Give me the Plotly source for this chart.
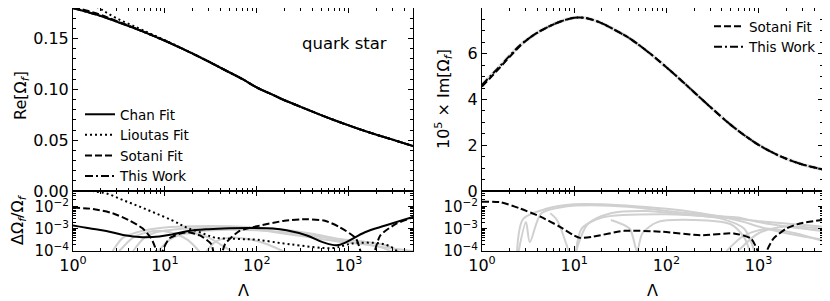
import plotly.graph_objects as go
import math

# ---------------- data ----------------
lam_re = [1, 1.5, 2, 3, 5, 7, 10, 15, 20, 30, 50, 70, 100, 150, 200, 300, 500, 700, 1000, 1500, 2000, 3000, 5000]
re_chan = [0.1797, 0.1755, 0.1722, 0.1665, 0.1590, 0.1537, 0.1478, 0.1405, 0.1352, 0.1272, 0.1168, 0.1100, 0.1018,
           0.0945, 0.0893, 0.0828, 0.0747, 0.0696, 0.0645, 0.0590, 0.0554, 0.0505, 0.0442]
re_lioutas = [0.1990, 0.1860, 0.1790, 0.1698, 0.1606, 0.1546, 0.1483, 0.1408, 0.1353, 0.1273, 0.1168, 0.1100, 0.1018,
              0.0945, 0.0893, 0.0828, 0.0747, 0.0696, 0.0645, 0.0590, 0.0554, 0.0505, 0.0442]
re_sotani = [0.1812, 0.1768, 0.1733, 0.1671, 0.1593, 0.1538, 0.1478, 0.1405, 0.1352, 0.1272, 0.1168, 0.1100, 0.1018,
             0.0945, 0.0893, 0.0828, 0.0747, 0.0696, 0.0645, 0.0590, 0.0554, 0.0505, 0.0442]
re_this_work = [0.1797, 0.1755, 0.1722, 0.1665, 0.1590, 0.1537, 0.1478, 0.1405, 0.1352, 0.1272, 0.1168, 0.1100, 0.1018,
                0.0945, 0.0893, 0.0828, 0.0747, 0.0696, 0.0645, 0.0590, 0.0554, 0.0505, 0.0442]

lam_im = [1, 1.3, 1.6, 2, 2.6, 3.3, 4.3, 5.5, 7, 10, 13, 16, 20, 26, 40, 66, 100, 150, 200, 300, 500, 700,
          1000, 1500, 2000, 3000, 5000]
im_sotani = [4.56, 5.05, 5.44, 5.87, 6.35, 6.70, 7.00, 7.22, 7.40, 7.57, 7.57, 7.48, 7.33, 7.10, 6.67, 6.02, 5.41,
             4.78, 4.32, 3.67, 2.89, 2.44, 2.02, 1.63, 1.41, 1.16, 0.94]
im_this_work = [4.64, 5.12, 5.50, 5.92, 6.38, 6.70, 7.00, 7.22, 7.40, 7.57, 7.57, 7.48, 7.33, 7.10, 6.67, 6.02, 5.41,
                4.78, 4.32, 3.67, 2.89, 2.44, 2.02, 1.63, 1.41, 1.16, 0.94]

# relative errors, left panel (quark star, real part)
lam_res_chan = [1, 1.5, 2.3, 3.5, 5.7, 8.7, 12, 18, 30, 50, 85, 150, 210, 350, 520, 740, 940, 1500, 2500, 5000]
res_chan = [1.4e-3, 1.05e-3, 8.0e-4, 5.3e-4, 4.2e-4, 4.5e-4, 5.6e-4, 8.0e-4, 9.6e-4, 1.05e-3, 1.08e-3, 1.02e-3,
            8.5e-4, 5.0e-4, 2.5e-4, 1.8e-4, 2.5e-4, 7.0e-4, 1.4e-3, 3.4e-3]
lam_res_lioutas = [1, 1.65, 2.3, 3.5, 5.3, 8, 12, 15, 18, 24, 35, 60, 100, 230, 670, 900, 1100, 2200, 3000, 3500, 4000]
res_lioutas = [1.0e-1, 5.0e-2, 3.9e-2, 1.95e-2, 1.0e-2, 4.9e-3, 2.4e-3, 1.5e-3, 1.05e-3, 7.0e-4, 4.0e-4, 3.5e-4,
               3.2e-4, 2.0e-4, 1.35e-4, 1.8e-4, 2.2e-4, 2.2e-4, 1.4e-4, 8.0e-5, 3.0e-5]
lam_res_sotani = [1, 1.65, 2.7, 4, 5.7, 7.1, 8.0, 8.6, 9.5, 11.2, 14.4, 18, 24, 32, 37, 45, 65, 100, 200, 350, 550,
                  790, 1200, 1600, 2200, 3300, 5000]
res_sotani = [9.0e-3, 7.8e-3, 5.0e-3, 2.5e-3, 1.05e-3, 3.7e-4, 1.1e-4, 1.0e-5, 1.1e-4, 3.7e-4, 5.9e-4, 7.0e-4, 5.0e-4,
              2.0e-4, 1.0e-5, 2.0e-4, 8.0e-4, 1.3e-3, 2.3e-3, 2.7e-3, 2.3e-3, 1.2e-3, 3.6e-4, 1.0e-5, 5.0e-4, 1.7e-3,
              3.3e-3]

# relative errors, right panel (imaginary part)
lam_res_sotani_im = [1, 1.6, 2.6, 4.3, 7, 9.9, 11.6, 16, 35, 87, 235, 537, 830, 1000, 1100, 1200, 1450, 2000, 2800, 5000]
res_sotani_im = [1.66e-2, 1.55e-2, 8.1e-3, 3.5e-3, 1.23e-3, 5.1e-4, 3.9e-4, 4.4e-4, 8.1e-4, 7.4e-4, 5.1e-4, 6.2e-4,
                 3.6e-4, 8.0e-5, 1.0e-5, 8.0e-5, 3.6e-4, 1.02e-3, 1.74e-3, 2.5e-3]

# individual-star residuals (grey)
gray_left_lam = [
    [2.7, 3.5, 5, 7, 10, 20, 50, 100, 200, 400, 800, 1500, 2500, 3500],
    [4.5, 6, 8, 12, 20, 50, 100, 230, 500, 800, 1500, 2200, 3000],
    [3.2, 4.5, 6.5, 9.5, 13, 18, 24],
    [8.5, 11, 15, 22, 30, 40, 55],
    [28, 35, 50, 80, 130, 200],
    [15, 25, 50, 100, 200, 400, 800, 1500, 3000, 5000],
]
gray_left_res = [
    [1e-4, 4e-4, 7e-4, 9.5e-4, 1.15e-3, 1.3e-3, 1.3e-3, 1.15e-3, 9e-4, 6e-4, 3.5e-4, 2.6e-4, 1.8e-4, 1e-4],
    [1e-4, 4e-4, 7e-4, 9e-4, 1.05e-3, 1.05e-3, 9e-4, 5.5e-4, 3.5e-4, 2.6e-4, 2e-4, 1.5e-4, 9e-5],
    [1e-4, 4e-4, 7e-4, 8e-4, 6e-4, 3e-4, 9e-5],
    [1e-4, 3e-4, 5.5e-4, 6e-4, 4e-4, 2e-4, 9e-5],
    [9e-5, 2.5e-4, 4e-4, 3.5e-4, 2e-4, 9e-5],
    [6e-4, 8e-4, 9e-4, 8.5e-4, 7e-4, 5e-4, 3e-4, 2e-4, 1.3e-4, 1e-4],
]
gray_right_lam = [
    [2.4, 2.8, 5, 10, 20, 50, 100, 200, 400, 700, 1000, 2000, 5000],
    [2.5, 3.0, 3.3, 4.4, 8, 20, 50, 100, 300, 600, 1000, 2000, 5000],
    [5.5, 6.5, 8.7],
    [10.5, 14, 25, 60, 150, 400, 700, 900],
    [25, 40, 48, 55, 80, 200, 500, 700, 800],
    [450, 700, 1250, 2500, 5000],
    [600, 1000, 2000, 5000],
    [10.5, 12, 20, 100, 400, 1000, 5000],
]
gray_right_res = [
    [1e-4, 2.8e-3, 7.9e-3, 1.26e-2, 1.26e-2, 1.0e-2, 7.9e-3, 5.6e-3, 3.5e-3, 2.0e-3, 1.26e-3, 6.3e-4, 3.2e-4],
    [1e-4, 2.0e-3, 2.5e-4, 5.0e-3, 1.0e-2, 1.12e-2, 8.9e-3, 6.3e-3, 4.0e-3, 3.2e-3, 2.0e-3, 1.26e-3, 7.9e-4],
    [5.0e-3, 2.5e-3, 1e-4],
    [1e-4, 1.6e-3, 5.0e-3, 6.3e-3, 4.5e-3, 2.8e-3, 1.0e-3, 1e-4],
    [2.5e-3, 1.0e-3, 1e-4, 6.3e-4, 2.0e-3, 2.5e-3, 1.6e-3, 4.0e-4, 1e-4],
    [1e-4, 5.0e-4, 1.0e-3, 6.3e-4, 2.8e-4],
    [1e-4, 6.3e-4, 1.26e-3, 1.0e-3],
    [1e-4, 1.0e-3, 3.2e-3, 4.5e-3, 3.2e-3, 2.2e-3, 1.26e-3],
]

x_tick_vals = [1, 10, 100, 1000]
x_tick_text = ["10<sup>0</sup>", "10<sup>1</sup>", "10<sup>2</sup>", "10<sup>3</sup>"]
res_tick_vals = [1e-4, 1e-3, 1e-2]
res_tick_text = ["10<sup>−4</sup>", "10<sup>−3</sup>", "10<sup>−2</sup>"]

# ---------------- figure ----------------
FONT = "DejaVu Sans"
GRAY = "#d0d0d0"
fig = go.Figure()

x_minor = [m * 10 ** d for d in range(4) for m in range(2, 10) if m * 10 ** d <= 5000]
y_minor = [m * 10 ** d for d in (-4, -3, -2) for m in range(2, 10) if m * 10 ** d <= 0.05]

for lams, vals in zip(gray_left_lam, gray_left_res):
    fig.add_trace(go.Scatter(x=lams, y=vals, xaxis="x2", yaxis="y2", mode="lines", showlegend=False,
                             line=dict(color=GRAY, width=2, shape="spline", smoothing=0.8)))
for lams, vals in zip(gray_right_lam, gray_right_res):
    fig.add_trace(go.Scatter(x=lams, y=vals, xaxis="x4", yaxis="y4", mode="lines", showlegend=False,
                             line=dict(color=GRAY, width=2, shape="spline", smoothing=0.8)))

DASH = "7px,3px"
DOT = "2px,3px"
DASHDOT = "8px,3px,2px,3px"
LW = 2

# top-left
fig.add_trace(go.Scatter(x=lam_re, y=re_chan, xaxis="x", yaxis="y", mode="lines", name="Chan Fit", legend="legend",
                         line=dict(color="black", width=LW, shape="spline")))
fig.add_trace(go.Scatter(x=lam_re, y=re_lioutas, xaxis="x", yaxis="y", mode="lines", name="Lioutas Fit",
                         legend="legend", line=dict(color="black", width=LW, dash=DOT, shape="spline")))
fig.add_trace(go.Scatter(x=lam_re, y=re_sotani, xaxis="x", yaxis="y", mode="lines", name="Sotani Fit",
                         legend="legend", line=dict(color="black", width=LW, dash=DASH, shape="spline")))
fig.add_trace(go.Scatter(x=lam_re, y=re_this_work, xaxis="x", yaxis="y", mode="lines", name="This Work",
                         legend="legend", line=dict(color="black", width=LW, dash=DASHDOT, shape="spline")))
# bottom-left
fig.add_trace(go.Scatter(x=lam_res_chan, y=res_chan, xaxis="x2", yaxis="y2", mode="lines", showlegend=False,
                         line=dict(color="black", width=LW, shape="spline")))
fig.add_trace(go.Scatter(x=lam_res_lioutas, y=res_lioutas, xaxis="x2", yaxis="y2", mode="lines", showlegend=False,
                         line=dict(color="black", width=LW, dash=DOT, shape="spline")))
fig.add_trace(go.Scatter(x=lam_res_sotani, y=res_sotani, xaxis="x2", yaxis="y2", mode="lines", showlegend=False,
                         line=dict(color="black", width=LW, dash=DASH, shape="spline", smoothing=0.6)))
# top-right
fig.add_trace(go.Scatter(x=lam_im, y=im_this_work, xaxis="x3", yaxis="y3", mode="lines", showlegend=False,
                         line=dict(color="#e2e2e2", width=3.5, shape="spline")))
fig.add_trace(go.Scatter(x=lam_im, y=im_sotani, xaxis="x3", yaxis="y3", mode="lines", name="Sotani Fit",
                         legend="legend2", line=dict(color="black", width=LW, dash=DASH, shape="spline")))
fig.add_trace(go.Scatter(x=lam_im, y=im_this_work, xaxis="x3", yaxis="y3", mode="lines", name="This Work",
                         legend="legend2", line=dict(color="black", width=LW, dash=DASHDOT, shape="spline")))
# bottom-right
fig.add_trace(go.Scatter(x=lam_res_sotani_im, y=res_sotani_im, xaxis="x4", yaxis="y4", mode="lines",
                         showlegend=False, line=dict(color="black", width=LW, dash=DASH, shape="spline",
                                                     smoothing=0.6)))

# page body has an 8px margin: work in screen pixels, then shift
OFF = 8
W, H = 830 - OFF, 301 - OFF
X0, X1, Y0, Y1 = 73 - OFF, 823 - OFF, 0, 251 - OFF
ML, MR, MT, MB = X0, W - X1, Y0, H - Y1
PW, PH = X1 - X0, Y1 - Y0


def px(sx):  # screen x -> paper
    return (sx - OFF - X0) / PW


def py(sy):  # screen y -> paper
    return 1 - (sy - OFF - Y0) / PH


xl = [0, px(413)]
xr = [px(482), 1]
yb = [0, py(191)]
yt = [py(191), 1]

tickfont = dict(family=FONT, size=16, color="black")
base = dict(showline=True, linecolor="black", linewidth=1, mirror="allticks", ticks="inside", ticklen=5,
            tickwidth=1, tickcolor="black", showgrid=False, zeroline=False, tickfont=tickfont)


def xax(domain, anchor, labels):
    d = dict(base)
    d.update(domain=domain, anchor=anchor, type="log", range=[0, math.log10(5000)], tickmode="array",
             tickvals=x_tick_vals, ticktext=x_tick_text, showticklabels=labels,
             minor=dict(ticks="inside", ticklen=3, tickwidth=1, tickcolor="black", showgrid=False,
                        tickmode="array", tickvals=x_minor))
    return d


def yres(domain, anchor):
    d = dict(base)
    d.update(domain=domain, anchor=anchor, type="log", range=[-4, -1.3], tickmode="array",
             tickvals=res_tick_vals, ticktext=res_tick_text,
             tickfont=dict(family=FONT, size=15, color="black"),
             minor=dict(ticks="inside", ticklen=3, tickwidth=1, tickcolor="black", showgrid=False,
                        tickmode="array", tickvals=y_minor))
    return d


ya = dict(base)
ya.update(domain=yt, anchor="x", range=[0, 0.18], tickmode="linear", tick0=0, dtick=0.05, tickformat=".2f",
          minor=dict(ticks="inside", ticklen=3, tickwidth=1, tickcolor="black", showgrid=False, dtick=0.01))
ya3 = dict(base)
ya3.update(domain=yt, anchor="x3", range=[0, 8], tickmode="array", tickvals=[0, 2, 4, 6], ticktext=["0", "2", "4", "6"],
           minor=dict(ticks="inside", ticklen=3, tickwidth=1, tickcolor="black", showgrid=False, tick0=0, dtick=0.5))

legfont = dict(family=FONT, size=13.5, color="black")


def ann(text, sx, sy, size=16, angle=0):
    return dict(text=text, x=px(sx), y=py(sy), xref="paper", yref="paper", xanchor="center", yanchor="middle",
                textangle=angle, showarrow=False, font=dict(family=FONT, size=size, color="black"))


fig.update_layout(
    width=W, height=H, margin=dict(l=ML, r=MR, t=MT, b=MB, pad=0),
    paper_bgcolor="white", plot_bgcolor="white",
    font=dict(family=FONT, size=16, color="black"),
    xaxis=xax(xl, "y", False), yaxis=ya,
    xaxis2=xax(xl, "y2", True), yaxis2=yres(yb, "x2"),
    xaxis3=xax(xr, "y3", False), yaxis3=ya3,
    xaxis4=xax(xr, "y4", True), yaxis4=yres(yb, "x4"),
    legend=dict(x=px(80), y=py(99), xanchor="left", yanchor="top", font=legfont, bgcolor="rgba(0,0,0,0)",
                tracegroupgap=0, itemwidth=30),
    legend2=dict(x=px(822), y=py(11), xanchor="right", yanchor="top", font=legfont, bgcolor="rgba(0,0,0,0)",
                 itemwidth=30),
    annotations=[
        ann("quark star", 344, 43, 16.5),
        ann("Re[Ω<sub><i>f</i></sub>]", 21, 96, 16, -90),
        ann("ΔΩ<sub><i>f</i></sub>/Ω<sub><i>f</i></sub>", 18, 220, 16, -90),
        ann("10<sup>5</sup> × Im[Ω<sub><i>f</i></sub>]", 444, 99, 16, -90),
        ann("Λ", 243, 290, 16),
        ann("Λ", 652, 290, 16),
    ],
)

fig.write_html("out.html")
